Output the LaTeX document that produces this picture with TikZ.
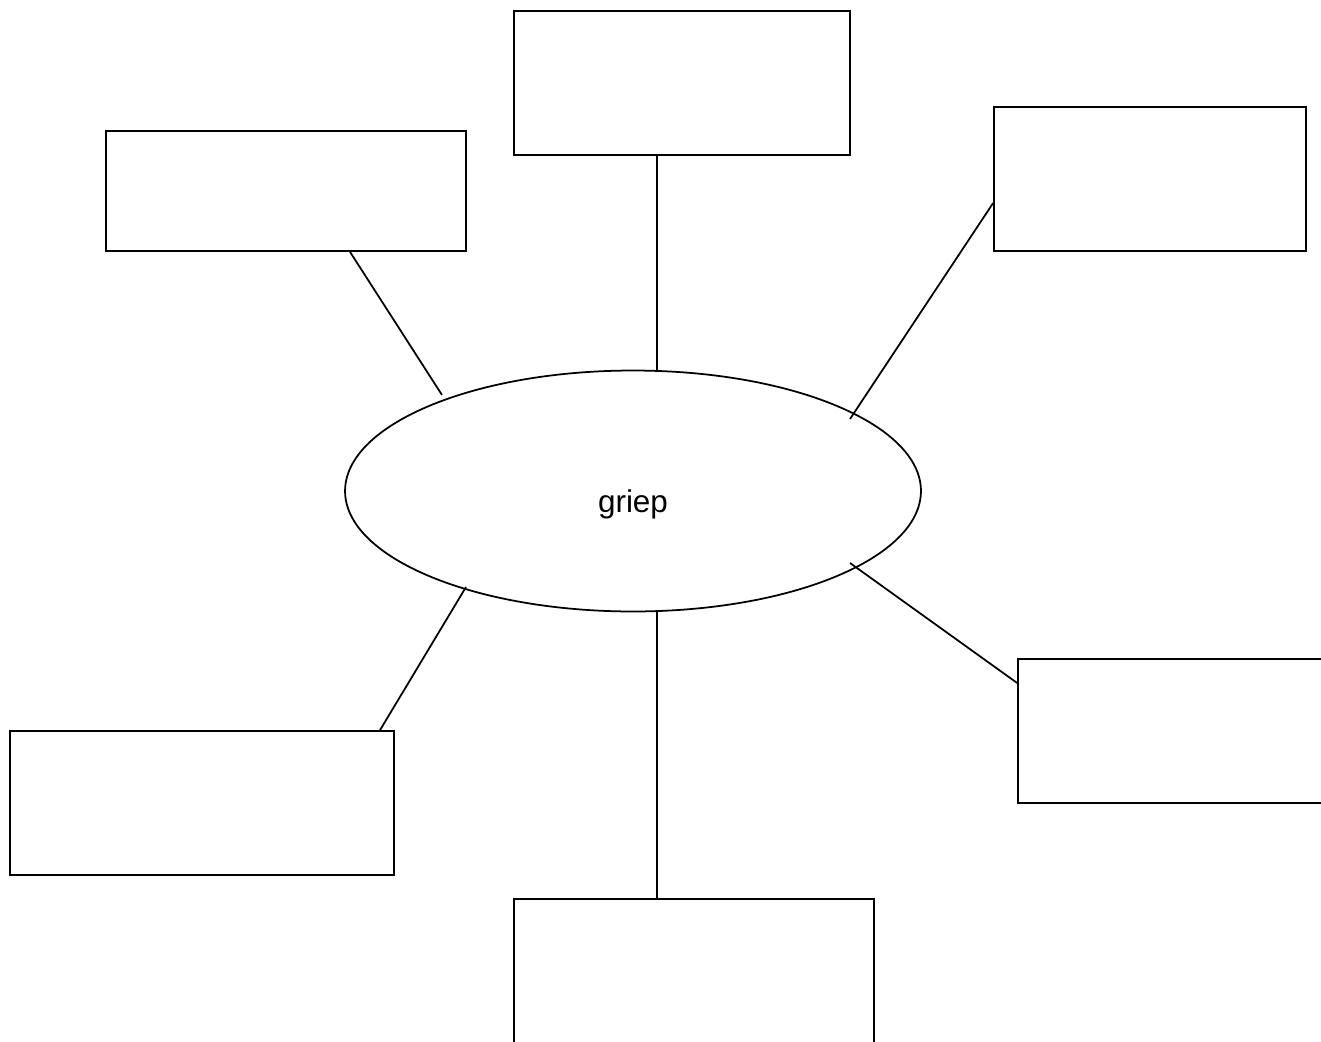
\documentclass[tikz,border=0pt]{standalone}
\usepackage{fontspec}
\setmainfont{Liberation Sans}
\usetikzlibrary{shapes.geometric, positioning}
\tikzset{leaf node/.style={rectangle, draw, line width=1pt, inner sep=0pt},
  topic node/.style={ellipse, draw, line width=1pt, inner sep=0pt, minimum width=11.52cm, minimum height=4.82cm, text height=0pt, text depth=0pt, font=\fontsize{17.9}{21}\selectfont},
  link/.style={line width=1pt}
}
\begin{document}
\begin{tikzpicture}[x=0.02cm, y=-0.02cm]
          \useasboundingbox (0,0) rectangle (1321,1041);
          \clip (0,0) rectangle (1321,1041);
          % Centre
          \node[topic node] (flu) at (633, 491) {\raisebox{-12pt}{griep}};
          % Boxes
          \node[leaf node, minimum width=6.72cm, minimum height=2.88cm] (top) at (682, 83) {};
          \node[leaf node, minimum width=7.2cm, minimum height=2.4cm] (topleft) at (286, 191) {};
          \node[leaf node, minimum width=6.24cm, minimum height=2.88cm] (topright) at (1150, 179) {};
          \node[leaf node, minimum width=7.68cm, minimum height=2.88cm] (botleft) at (202, 803) {};
          \node[leaf node, minimum width=7.2cm, minimum height=2.88cm] (botright) at (1198, 731) {};
          \node[leaf node, minimum width=7.2cm, minimum height=2.88cm] (bottom) at (694, 971) {};
          % Free ends near the ellipse
          \coordinate (c1) at (657, 370);
          \coordinate (c2) at (442, 395);
          \coordinate (c3) at (850, 419);
          \coordinate (c4) at (850, 563);
          \coordinate (c5) at (657, 611);
          \coordinate (c6) at (466, 587);
          % Connections
          \draw[link] (top.south -| c1) -- (c1);
          \draw[link] (topleft.south -| 350,0) -- (c2);
          \draw[link] (topright.west |- 0,203) -- (c3);
          \draw[link] (botright.west |- 0,683) -- (c4);
          \draw[link] (bottom.north -| c5) -- (c5);
          \draw[link] (botleft.north -| 380,0) -- (c6);
        \end{tikzpicture}
\end{document}
